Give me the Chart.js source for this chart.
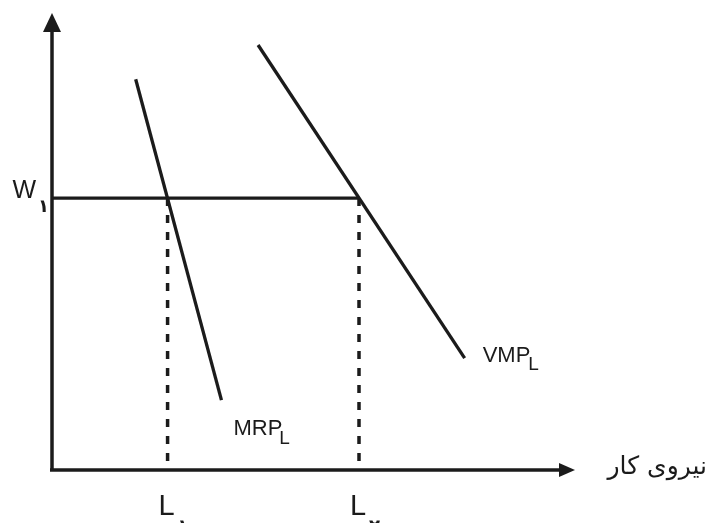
<!DOCTYPE html>
<html>
<head>
<meta charset="utf-8">
<script src="https://cdn.jsdelivr.net/npm/chart.js@4"></script>
<style>
  html, body { margin: 0; padding: 0; background: #fff; }
  #wrap { width: 710px; height: 523px; }
</style>
</head>
<body>
<div id="wrap"><canvas id="laborChart"></canvas></div>
<script>
// values (arbitrary units, axes 0..100)
const wageLevel = 59.5;
const laborLevels = [22.1, 58.7];
const laborLabels = ["L", "L"];
const laborSubs = ["۱", "۲"];
const wageLabel = "W";
const wageSub = "۱";
const mrpX = [16, 32.4];
const mrpY = [85.5, 15.3];
const vmpX = [39.4, 78.9];
const vmpY = [93, 24.5];
const xTitle = "نیروی کار";

const ink = "#1b1b1b";

function pts(xs, ys) {
    return xs.map((x, i) => ({ x: x, y: ys[i] }));
}

// axes with arrows and the text labels
const decor = {
    id: "decor",
    afterDraw(chart) {
        const c = chart.ctx;
        const a = chart.chartArea;
        const xs = chart.scales.x;
        const ys = chart.scales.y;
        c.save();
        c.strokeStyle = ink;
        c.fillStyle = ink;
        c.lineWidth = 3.5;

        // y axis
        c.beginPath();
        c.moveTo(a.left, a.bottom);
        c.lineTo(a.left, a.top + 12);
        c.stroke();
        c.beginPath();
        c.moveTo(a.left, a.top);
        c.lineTo(a.left - 9, a.top + 19);
        c.lineTo(a.left + 9, a.top + 19);
        c.closePath();
        c.fill();

        // x axis
        c.beginPath();
        c.moveTo(a.left - 2, a.bottom);
        c.lineTo(a.right - 12, a.bottom);
        c.stroke();
        c.beginPath();
        c.moveTo(a.right, a.bottom);
        c.lineTo(a.right - 16, a.bottom - 7);
        c.lineTo(a.right - 16, a.bottom + 7);
        c.closePath();
        c.fill();

        c.textBaseline = "alphabetic";

        // W1
        const wy = ys.getPixelForValue(wageLevel);
        c.font = "25px 'Liberation Sans'";
        c.textAlign = "right";
        c.fillText(wageLabel, a.left - 16, wy);
        c.font = "bold 18px 'DejaVu Sans'";
        c.textAlign = "left";
        c.fillText(wageSub, a.left - 14, wy + 14);

        // L1, L2
        laborLevels.forEach((v, i) => {
            const px = xs.getPixelForValue(v);
            c.font = "29px 'Liberation Sans'";
            c.textAlign = "center";
            c.fillText(laborLabels[i], px - 1, a.bottom + 45);
            c.font = "bold 18px 'DejaVu Sans'";
            c.textAlign = "left";
            c.fillText(laborSubs[i], px + 10, a.bottom + 62);
        });

        // MRP_L
        const mx = xs.getPixelForValue(mrpX[1]);
        const my = ys.getPixelForValue(mrpY[1]);
        c.font = "22px 'Liberation Sans'";
        c.textAlign = "left";
        c.fillText("MRP", mx + 12, my + 35);
        const mw = c.measureText("MRP").width;
        c.font = "19px 'Liberation Sans'";
        c.fillText("L", mx + 9 + mw, my + 44);

        // VMP_L
        const vx = xs.getPixelForValue(vmpX[1]);
        const vy = ys.getPixelForValue(vmpY[1]);
        c.font = "22px 'Liberation Sans'";
        c.fillText("VMP", vx + 18, vy + 4);
        const vw = c.measureText("VMP").width;
        c.font = "19px 'Liberation Sans'";
        c.fillText("L", vx + 16 + vw, vy + 12);

        // x axis title
        c.font = "25px 'DejaVu Sans'";
        c.textAlign = "right";
        c.textBaseline = "middle";
        c.fillText(xTitle, 707, a.bottom - 3);
        c.restore();
    }
};

const line = (data, dash, w) => ({
    data: data,
    showLine: true,
    borderColor: ink,
    borderWidth: w || 3.3,
    borderDash: dash || [],
    pointRadius: 0,
    fill: false,
    clip: false
});

new Chart(document.getElementById("laborChart"), {
    type: "scatter",
    data: {
        datasets: [
            line(pts(mrpX, mrpY)),
            line(pts(vmpX, vmpY)),
            line([{ x: 0, y: wageLevel }, { x: laborLevels[1], y: wageLevel }]),
            line([{ x: laborLevels[0], y: wageLevel }, { x: laborLevels[0], y: 0 }], [8, 9], 3.5),
            line([{ x: laborLevels[1], y: wageLevel }, { x: laborLevels[1], y: 0 }], [8, 9], 3.5)
        ]
    },
    options: {
        responsive: true,
        maintainAspectRatio: false,
        animation: false,
        layout: { padding: { left: 52, top: 13, right: 135, bottom: 53 } },
        plugins: { legend: { display: false }, tooltip: { enabled: false } },
        scales: {
            x: { type: "linear", min: 0, max: 100, display: false },
            y: { type: "linear", min: 0, max: 100, display: false }
        }
    },
    plugins: [decor]
});
</script>
</body>
</html>
